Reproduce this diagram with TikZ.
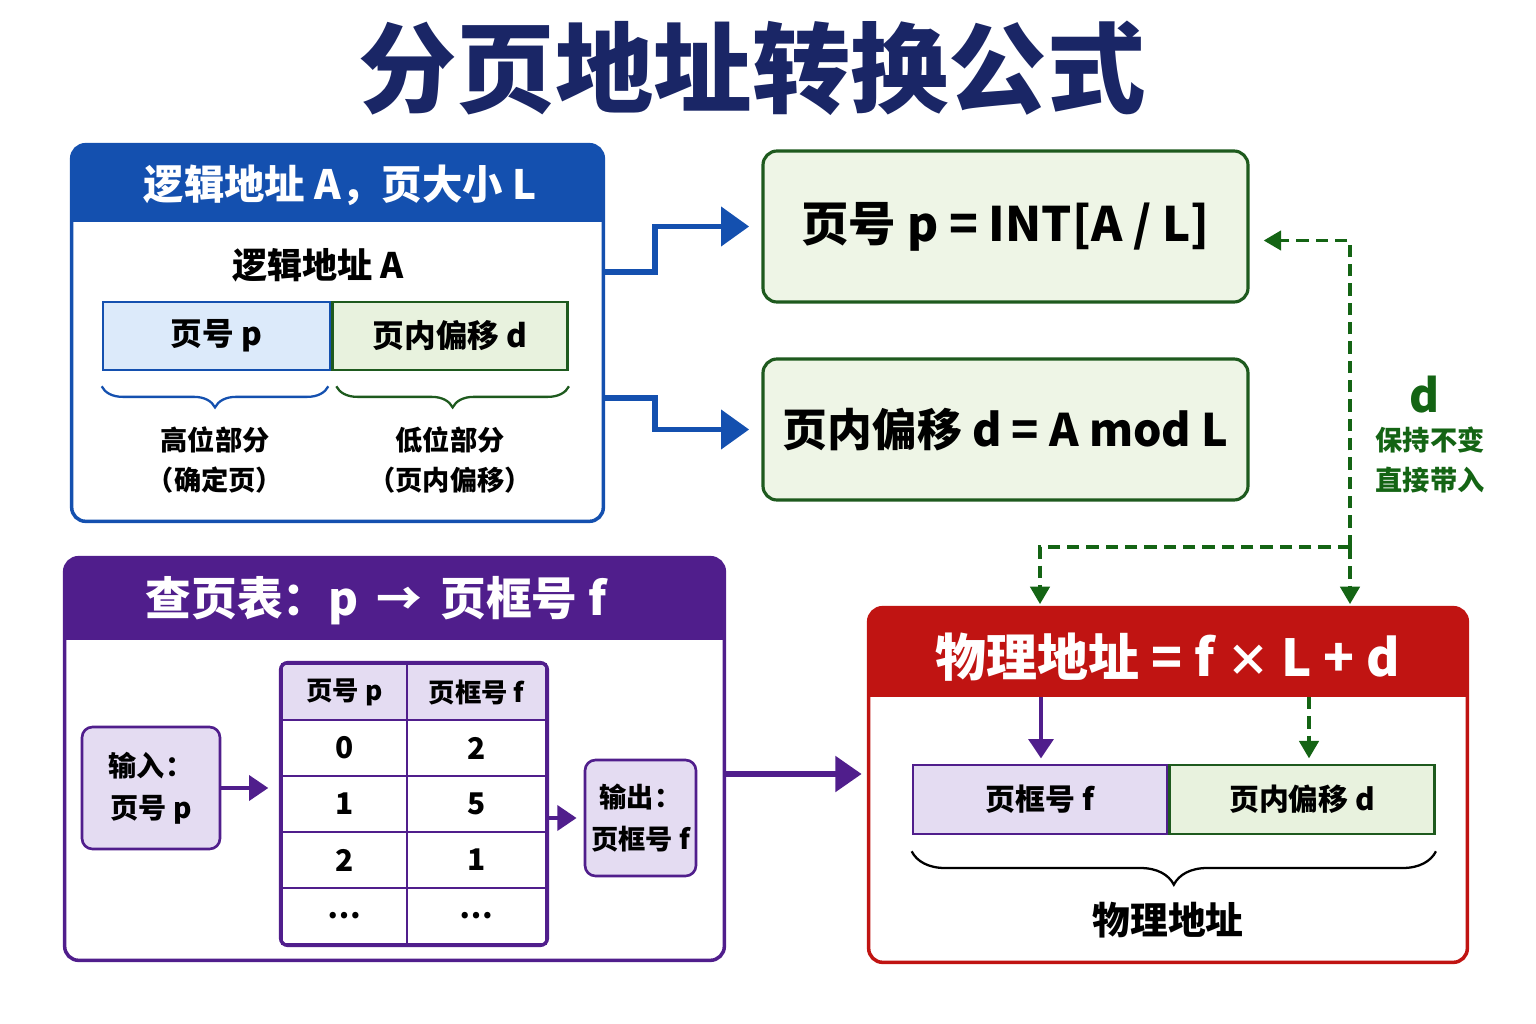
\documentclass[tikz,border=0pt]{standalone}
\usepackage{fontspec}
\setmainfont{Noto Sans CJK SC}
\usepackage{tikz}
\usetikzlibrary{positioning,calc,fit,arrows.meta,decorations.pathreplacing}

\definecolor{titlenavy}{RGB}{26,38,102}
\definecolor{bluehead}{RGB}{20,80,175}
\definecolor{lightblue}{RGB}{220,234,250}
\definecolor{darkgreen}{RGB}{30,90,30}
\definecolor{lightgreen}{RGB}{232,242,222}
\definecolor{formgreen}{RGB}{238,245,230}
\definecolor{dashgreen}{RGB}{20,100,20}
\definecolor{purplehead}{RGB}{80,30,140}
\definecolor{lavender}{RGB}{228,220,242}
\definecolor{redhead}{RGB}{192,20,18}

\begin{document}
\begin{tikzpicture}[x=0.02cm,y=-0.02cm,
  fs/.style={font=\fontsize{#1}{\the\dimexpr#1pt*14/10\relax}\selectfont\bfseries},
  cell/.style={draw,line width=1.5pt,inner sep=0pt},
  gbox/.style={draw=darkgreen,fill=formgreen,line width=1.8pt,rounded corners=8pt,inner sep=0pt},
  smallbox/.style={draw=purplehead,fill=lavender,line width=1.5pt,rounded corners=6pt,inner sep=0pt,align=center},
  tcell/.style={draw=purplehead,line width=1.5pt,inner sep=0pt,minimum height=56*0.02cm},
  bluearrow/.style={draw=bluehead,line width=3.2pt,-{Triangle[length=16pt,width=22pt]}},
  parrow/.style={draw=purplehead,line width=2.8pt,-{Triangle[length=11pt,width=14pt]}},
  bigparrow/.style={draw=purplehead,line width=3pt,-{Triangle[length=15pt,width=20pt]}},
  dgreen/.style={draw=dashgreen,line width=2.2pt,dash pattern=on 7pt off 4pt,-{Triangle[length=10pt,width=11pt]}},
  bracestyle/.style={decorate,decoration={brace,mirror,amplitude=#1},line width=1.3pt}]
\useasboundingbox (0,0) rectangle (1536,1024);

\node[fs=56,text=titlenavy] (title) at (752,68) {分页地址转换公式};

\node[fit={(72,145) (603,521)},inner sep=0pt] (lbox) {};
\fill[white,rounded corners=8pt] (lbox.north west) rectangle (lbox.south east);
\begin{scope}
\clip[rounded corners=8pt] (lbox.north west) rectangle (lbox.south east);
\fill[bluehead] (lbox.north west) rectangle (603,222);
\end{scope}
\draw[bluehead,line width=2pt,rounded corners=8pt] (lbox.north west) rectangle (lbox.south east);
\node[fs=23,text=white] (lhead) at (340,185) {逻辑地址 A，页大小 L};
\node[fs=20] (laddr) at (318,265) {逻辑地址 A};
\node[cell,draw=bluehead,fill=lightblue,minimum width=227*0.02cm,minimum height=68*0.02cm,fs=18] (pcell) at (216.5,336) {页号 p};
\node[cell,draw=darkgreen,fill=lightgreen,minimum width=235*0.02cm,minimum height=68*0.02cm,fs=18,right=0pt of pcell] (dcell) {页内偏移 d};
\draw[bracestyle=12pt,bluehead] ($(pcell.south west)+(0,15)$) -- ($(pcell.south east)+(-3,15)$);
\draw[bracestyle=12pt,darkgreen] ($(dcell.south west)+(5,15)$) -- ($(dcell.south east)+(0,15)$);
\node[fs=15.5] (hi1) at (215,440) {高位部分};
\node[fs=15.5] (hi2) at (215,480) {（确定页）};
\node[fs=15.5] (lo1) at (450,440) {低位部分};
\node[fs=15.5] (lo2) at (450,480) {（页内偏移）};

\node[gbox,minimum width=485*0.02cm,minimum height=151*0.02cm,fs=27] (pform) at (1005.5,226.5) {页号 p = INT[A / L]};
\node[gbox,minimum width=485*0.02cm,minimum height=141*0.02cm,fs=25.5] (dform) at (1005.5,429.5) {页内偏移 d = A mod L};

\coordinate (ao1) at (603,272);
\coordinate (ao2) at (603,398);
\draw[bluearrow,shorten >=7pt] (ao1) -- (655,272) |- (pform.west);
\draw[bluearrow,shorten >=7pt] (ao2) -- (655,398) |- (dform.west);

\node[fit={(65,558) (724,960)},inner sep=0pt] (tbox) {};
\fill[white,rounded corners=8pt] (tbox.north west) rectangle (tbox.south east);
\begin{scope}
\clip[rounded corners=8pt] (tbox.north west) rectangle (tbox.south east);
\fill[purplehead] (tbox.north west) rectangle (724,640);
\end{scope}
\draw[purplehead,line width=2pt,rounded corners=8pt] (tbox.north west) rectangle (tbox.south east);
\node[fs=26,text=white] (thead) at (376,601) {查页表：p\hspace{0.4em}→\hspace{0.4em}页框号 f};

\node[smallbox,minimum width=138*0.02cm,minimum height=122*0.02cm,font=\fontsize{16}{24}\selectfont\bfseries] (inbox) at (151,788) {输入：\\页号 p};
\node[tcell,fill=lavender,minimum width=125*0.02cm,fs=15] (th1) at (344.5,692) {页号 p};
\node[tcell,fill=lavender,minimum width=139*0.02cm,fs=15] (th2) at (476.5,692) {页框号 f};
\foreach \p/\f [count=\i] in {0/2,1/5,2/1,…/…}
{
  \node[tcell,minimum width=125*0.02cm,fs=17] (r\i a) at (344.5,692+56*\i) {\p};
  \node[tcell,minimum width=139*0.02cm,fs=17] (r\i b) at (476.5,692+56*\i) {\f};
}
\node[fit=(th1)(r4b),inner sep=0pt,draw=purplehead,line width=2pt,rounded corners=4pt] (ptable) {};
\node[smallbox,minimum width=111*0.02cm,minimum height=116*0.02cm,font=\fontsize{15.5}{24}\selectfont\bfseries] (outbox) at (640.5,818) {输出：\\页框号 f};
\draw[parrow,shorten >=6pt] (inbox) -- (inbox -| ptable.west);
\draw[parrow,shorten >=4pt] (ptable.east |- outbox) -- (outbox);

\node[fit={(869,608) (1467,962)},inner sep=0pt] (rbox) {};
\fill[white,rounded corners=8pt] (rbox.north west) rectangle (rbox.south east);
\begin{scope}
\clip[rounded corners=8pt] (rbox.north west) rectangle (rbox.south east);
\fill[redhead] (rbox.north west) rectangle (1467,697);
\end{scope}
\draw[redhead,line width=2pt,rounded corners=8pt] (rbox.north west) rectangle (rbox.south east);
\node[fs=29,text=white] (rhead) at (1168,657) {物理地址 = f {\fontsize{25}{25}\selectfont ×} L + d};
\node[cell,draw=purplehead,fill=lavender,minimum width=254*0.02cm,minimum height=69*0.02cm,fs=17] (fcell) at (1040,799.5) {页框号 f};
\node[cell,draw=darkgreen,fill=lightgreen,minimum width=265*0.02cm,minimum height=69*0.02cm,fs=17,right=0pt of fcell] (ocell) {页内偏移 d};
\draw[bracestyle=19pt,black] ($(fcell.south west)+(0,16)$) -- ($(ocell.south east)+(0,16)$);
\node[fs=21.5] (paddr) at (1168,920) {物理地址};

\coordinate (pout) at (724,774);
\draw[bigparrow,shorten >=4pt] (pout) -- (rbox.west |- pout);
\coordinate (rh1) at (1041,697);
\coordinate (rh2) at (1309,697);
\draw[parrow,line width=2.4pt,shorten >=3pt] (rh1) -- (rh1 |- fcell.north);
\draw[dgreen,shorten >=3pt] (rh2) -- (rh2 |- ocell.north);

\coordinate (dsplit) at (1350,547);
\coordinate (dleft) at (1040,547);
\draw[dgreen,shorten >=8pt] (dsplit) |- ($(pform.east)+(0,14)$);
\draw[dgreen,shorten >=2pt] (dsplit) -- (rbox.north -| dsplit);
\draw[dgreen,shorten >=2pt] (dsplit) -- (dleft) -- (rbox.north -| dleft);
\node[fs=26,text=dashgreen] (dlabel) at (1425,395) {d};
\node[fs=15.5,text=dashgreen] (keep1) at (1430,440) {保持不变};
\node[fs=15.5,text=dashgreen] (keep2) at (1430,480) {直接带入};
\end{tikzpicture}
\end{document}
